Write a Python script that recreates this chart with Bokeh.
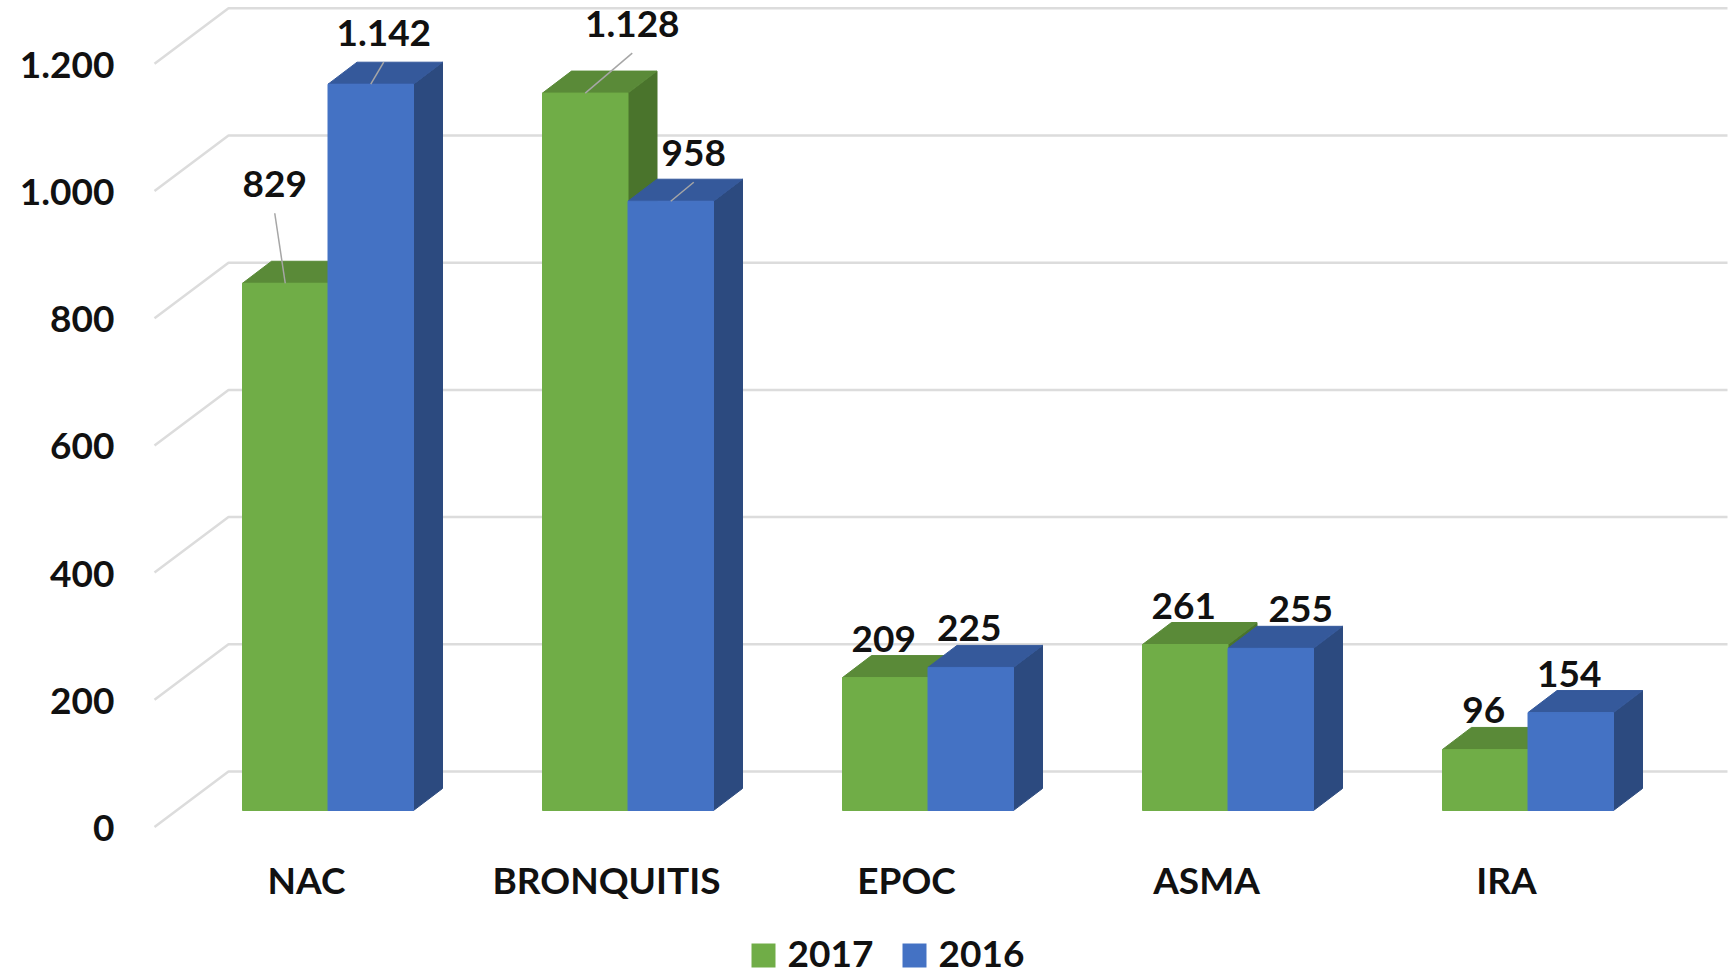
from bokeh.plotting import figure
from bokeh.models import Range1d, ColumnDataSource
from bokeh.core.properties import value
from bokeh.embed import file_html
from bokeh.resources import INLINE

# ---------------- data ----------------
categories = ["NAC", "BRONQUITIS", "EPOC", "ASMA", "IRA"]
series_names = ["2017", "2016"]
values_2017 = [829, 1128, 209, 261, 96]
values_2016 = [1142, 958, 225, 255, 154]
y_ticks = [0, 200, 400, 600, 800, 1000, 1200]


def fmt(v):
    return f"{v:,}".replace(",", ".")


y_tick_labels = [fmt(t) for t in y_ticks]

# ---------------- style / layout ----------------
W, H = 1731, 977
PXX = 300.0      # px per category
PXY = 0.636      # px per value unit
ZERO_X = 327.5   # px of first category centre (front face)
ZERO_Y = 810.0   # px from top of value 0 on the bar front plane
TXT_FIX = 14     # px: renderer places alphabetic baseline this much lower

x_start = -ZERO_X / PXX
x_end = x_start + W / PXX
y_start = -(H - ZERO_Y) / PXY
y_end = y_start + H / PXY


def fx(px):
    return x_start + px / PXX


def fy(py):
    return y_start + (H - py) / PXY


def dxp(px):
    return px / PXX


def dyp(px):
    return px / PXY


BAR_W = dxp(85.5)
DEPTH_X = dxp(29)
DEPTH_Y = dyp(22)
GRID_FRONT_Y = -dyp(16.5)
GRID_BACK_Y = dyp(39)
GRID_FRONT_X = fx(154)
GRID_BACK_X = fx(228)
GRID_RIGHT_X = fx(1727)

GREEN = {"front": "#70AD47", "top": "#5A8A38", "side": "#4A742C"}
BLUE = {"front": "#4472C4", "top": "#35599B", "side": "#2C4A7F"}
GRID_COLOR = "#DCDCDC"
TEXT_COLOR = "#111111"
FONT = value("Lato")
FONT_SIZE = "37px"

# label nudges (px): horizontal shift, height of baseline above bar front top
NUDGE_2017 = [(-10.5, 85), (47, 55), (-1.5, 25), (-1.5, 25), (-1.5, 25)]
NUDGE_2016 = [(13, 37), (23, 34), (-1.5, 25), (30, 25), (-1.5, 25)]
LEADER_2017 = [True, True, False, False, False]
LEADER_2016 = [True, True, False, False, False]

p = figure(width=W, height=H, x_range=Range1d(x_start, x_end),
           y_range=Range1d(y_start, y_end), output_backend="svg",
           toolbar_location=None, x_axis_location=None, y_axis_location=None,
           min_border=0, outline_line_color=None)
p.grid.grid_line_color = None
p.background_fill_color = "white"
p.border_fill_color = "white"

# ---------------- 3D grid lines ----------------
gxs, gys = [], []
for t in y_ticks:
    gxs.append([GRID_FRONT_X, GRID_BACK_X, GRID_RIGHT_X])
    gys.append([t + GRID_FRONT_Y, t + GRID_BACK_Y, t + GRID_BACK_Y])
p.multi_line(xs=gxs, ys=gys, line_color=GRID_COLOR, line_width=2.5)


# ---------------- bars ----------------
def draw_series(vals, offset, colors, name):
    left = [i + offset for i in range(len(vals))]
    right = [l + BAR_W for l in left]
    side_xs, side_ys, top_xs, top_ys = [], [], [], []
    for l, r, v in zip(left, right, vals):
        side_xs.append([r, r + DEPTH_X, r + DEPTH_X, r])
        side_ys.append([0, DEPTH_Y, v + DEPTH_Y, v])
        top_xs.append([l, r, r + DEPTH_X, l + DEPTH_X])
        top_ys.append([v, v, v + DEPTH_Y, v + DEPTH_Y])
    p.patches(xs=side_xs, ys=side_ys, fill_color=colors["side"],
              line_color=colors["side"], line_width=1)
    p.patches(xs=top_xs, ys=top_ys, fill_color=colors["top"],
              line_color=colors["top"], line_width=1)
    src = ColumnDataSource(dict(left=left, right=right, top=vals,
                                bottom=[0] * len(vals)))
    return p.quad(left="left", right="right", bottom="bottom", top="top",
                  source=src, fill_color=colors["front"],
                  line_color=colors["front"], line_width=1, name=name)


draw_series(values_2017, -BAR_W, GREEN, "2017")
draw_series(values_2016, 0.0, BLUE, "2016")


# ---------------- value labels ----------------
def value_labels(vals, offset, nudges, leaders):
    lx, ly, lt = [], [], []
    sx0, sy0, sx1, sy1 = [], [], [], []
    for i, (v, (nx, up), ld) in enumerate(zip(vals, nudges, leaders)):
        cx = i + offset + BAR_W / 2
        tx = cx + dxp(nx)
        lx.append(tx)
        ly.append(v + dyp(up + TXT_FIX))
        lt.append(fmt(v))
        if ld:
            sx0.append(tx)
            sy0.append(v + dyp(up - 15))
            sx1.append(cx)
            sy1.append(v)
    if sx0:
        p.segment(x0=sx0, y0=sy0, x1=sx1, y1=sy1, line_color="#A6A6A6",
                  line_width=1.5)
    p.text(x=lx, y=ly, text=lt, text_font=FONT, text_font_style="bold",
           text_font_size=FONT_SIZE, text_color=TEXT_COLOR,
           text_align="center", text_baseline="alphabetic")


value_labels(values_2017, -BAR_W, NUDGE_2017, LEADER_2017)
value_labels(values_2016, 0.0, NUDGE_2016, LEADER_2016)

# ---------------- axis labels ----------------
p.text(x=[fx(114)] * len(y_ticks),
       y=[t + GRID_FRONT_Y - dyp(15 - TXT_FIX) for t in y_ticks],
       text=y_tick_labels, text_font=FONT, text_font_style="bold",
       text_font_size=FONT_SIZE, text_color=TEXT_COLOR,
       text_align="right", text_baseline="alphabetic")

p.text(x=[i - dxp(21.5) for i in range(len(categories))],
       y=[GRID_FRONT_Y - dyp(66.5 - TXT_FIX)] * len(categories),
       text=categories, text_font=FONT, text_font_style="bold",
       text_font_size=FONT_SIZE, text_color=TEXT_COLOR,
       text_align="center", text_baseline="alphabetic")

# ---------------- legend ----------------
LEG_X0 = 751       # px, left of first swatch
LEG_STEP = 151     # px between items
LEG_SW = 24        # swatch size px
LEG_GAP = 12       # swatch -> text
LEG_SW_Y = 955     # px from top, swatch centre
LEG_TXT_Y = 967    # px from top, text baseline
sw_x = [fx(LEG_X0 + k * LEG_STEP + LEG_SW / 2) for k in range(len(series_names))]
p.rect(x=sw_x, y=[fy(LEG_SW_Y)] * 2, width=LEG_SW, height=LEG_SW,
       width_units="screen", height_units="screen",
       fill_color=[GREEN["front"], BLUE["front"]], line_color=None)
p.text(x=[fx(LEG_X0 + k * LEG_STEP + LEG_SW + LEG_GAP) for k in range(len(series_names))],
       y=[fy(LEG_TXT_Y - TXT_FIX)] * 2, text=series_names, text_font=FONT,
       text_font_style="bold", text_font_size=FONT_SIZE, text_color=TEXT_COLOR,
       text_align="left", text_baseline="alphabetic")

open("out.html", "w").write(file_html(p, INLINE))
